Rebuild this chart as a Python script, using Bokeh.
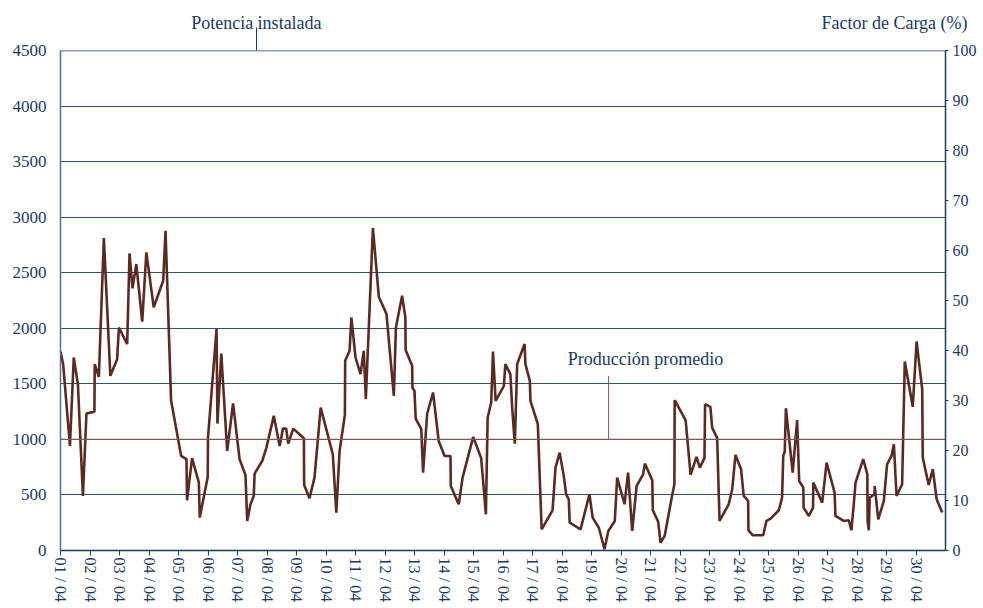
from bokeh.plotting import figure
from bokeh.models import Range1d, LinearAxis, FixedTicker, Span, Label
from bokeh.embed import file_html
from bokeh.resources import INLINE

# ---- data (time in days since 01/04 00:00, production in MW) ----
days = [
    0.00, 0.09, 0.32, 0.45, 0.59, 0.76, 0.88,
    1.15, 1.16, 1.30, 1.47, 1.69, 1.92, 1.98,
    2.26, 2.34, 2.44, 2.57, 2.77, 2.91,
    3.16, 3.48, 3.56, 3.75,
    4.09, 4.27, 4.29, 4.46, 4.69, 4.72, 4.99,
    5.00, 5.29, 5.32, 5.45, 5.65, 5.85,
    6.07, 6.27, 6.33, 6.44, 6.55, 6.58, 6.84, 6.98,
    7.23, 7.43, 7.54, 7.65, 7.72, 7.89,
    8.25, 8.26, 8.44, 8.61, 8.82,
    9.23, 9.35, 9.46, 9.64, 9.65, 9.80, 9.86,
    10.00, 10.17, 10.28, 10.35, 10.59, 10.79,
    11.05, 11.30, 11.37, 11.58, 11.69, 11.70, 11.92, 11.93,
    12.00, 12.04, 12.23, 12.29, 12.43, 12.63, 12.82,
    13.02, 13.22, 13.23, 13.50, 13.63, 13.99,
    14.26, 14.42, 14.48, 14.60, 14.66, 14.75,
    15.03, 15.08, 15.25, 15.31, 15.40, 15.48, 15.73, 15.76, 15.91, 15.93,
    16.18, 16.31, 16.68, 16.78, 16.92,
    17.06, 17.14, 17.23, 17.26, 17.63, 17.93,
    18.04, 18.25, 18.44, 18.57, 18.79, 18.87,
    19.12, 19.24, 19.38, 19.53, 19.75, 19.81,
    20.06, 20.08, 20.26, 20.34, 20.48, 20.73, 20.81, 20.82,
    21.19, 21.36, 21.56, 21.67, 21.83, 21.85,
    22.03, 22.09, 22.26, 22.34, 22.65, 22.77, 22.88,
    23.07, 23.16, 23.31, 23.32, 23.47, 23.82, 23.93,
    24.07, 24.35, 24.46, 24.50, 24.55, 24.59, 24.82, 24.97,
    25.04, 25.18, 25.19, 25.37, 25.51, 25.52, 25.82, 25.97,
    26.24, 26.27, 26.55, 26.72, 26.81, 26.89, 26.95,
    27.21, 27.35, 27.36, 27.40, 27.43, 27.59, 27.60, 27.72, 27.91,
    28.02, 28.17, 28.25, 28.34, 28.53, 28.62, 28.89,
    29.02, 29.21, 29.23, 29.43, 29.57, 29.70, 29.89,
]
production_mw = [
    1790, 1677, 941, 1737, 1497, 491, 1233,
    1250, 1677, 1563, 2813, 1572, 1722, 2007,
    1858, 2674, 2359, 2578, 2059, 2683,
    2188, 2428, 2878, 1347,
    851, 822, 452, 831, 611, 296, 662,
    1016, 1993, 1142, 1773, 896, 1323,
    822, 680, 266, 416, 491, 692, 806, 926,
    1212, 941, 1097, 1097, 962, 1097,
    1011, 590, 470, 656, 1286,
    866, 341, 896, 1221, 1707, 1797, 2097,
    1737, 1587, 1797, 1362, 2903, 2284,
    2128, 1392, 2007, 2293, 2097, 1804, 1662, 1467,
    1437, 1187, 1092, 701, 1233, 1422, 986,
    851, 851, 581, 416, 656, 1022,
    831, 326, 1197, 1332, 1791, 1347,
    1482, 1677, 1587, 1287, 962, 1677, 1858, 1677, 1527, 1347,
    1137, 191, 362, 746, 881,
    671, 506, 461, 250, 191, 506,
    296, 205, 11, 176, 266, 656,
    416, 701, 176, 581, 686, 782,
    632, 362, 259, 70, 131, 491, 596, 1353,
    1173, 680, 842, 746, 831, 1317,
    1293, 1106, 1011, 266, 416, 551, 860,
    731, 491, 446, 182, 137, 137, 266,
    287, 362, 476, 851, 890, 1281, 701, 1173,
    626, 566, 386, 311, 386, 611, 431, 791,
    521, 311, 266, 272, 182, 416, 611,
    822, 686, 266, 182, 476, 506, 581, 281, 446,
    776, 851, 956, 491, 596, 1701, 1293,
    1881, 1452, 836, 590, 731, 461, 341,
]
assert len(days) == len(production_mw)

day_ticks = list(range(30))
day_labels = ["%02d / 04" % (d + 1) for d in day_ticks]
mw_ticks = list(range(0, 4501, 500))
pct_ticks = list(range(0, 101, 10))
installed_mw = 4500
average_mw = 1000

# positions (in days) of the texts written above the frame
installed_note_x = 6.64
pct_title_x = 28.27

NAVY = "#1b3a5e"
GRID = "#2f5379"
LINE = "#5a2b23"
AVG = "#7b5750"
FONT = "Liberation Serif"

p = figure(width=979, height=604, x_range=Range1d(0, 30), y_range=Range1d(0, installed_mw),
           output_backend="svg", toolbar_location=None,
           min_border_left=60, min_border_top=50, min_border_right=30, min_border_bottom=50)
p.extra_y_ranges = {"pct": Range1d(0, 100)}
p.add_layout(LinearAxis(y_range_name="pct"), "right")

p.outline_line_color = None
p.background_fill_color = "white"
p.border_fill_color = "white"

left = p.left[0]
left.ticker = FixedTicker(ticks=mw_ticks)
left.major_tick_out = 0
left.major_tick_in = 0
left.minor_tick_out = 0
left.minor_tick_in = 0
left.axis_line_color = "#4f6f8f"
left.axis_line_width = 1.5
left.major_label_text_font = FONT
left.major_label_text_font_size = "17px"
left.major_label_text_color = NAVY
left.major_label_standoff = 14

right = p.right[0]
right.ticker = FixedTicker(ticks=pct_ticks)
right.major_tick_out = 3
right.major_tick_in = 0
right.minor_tick_out = 0
right.minor_tick_in = 0
right.major_tick_line_color = NAVY
right.axis_line_color = NAVY
right.axis_line_width = 1.5
right.major_label_text_font = FONT
right.major_label_text_font_size = "16px"
right.major_label_text_color = NAVY
right.major_label_standoff = 4

bottom = p.below[0]
bottom.ticker = FixedTicker(ticks=day_ticks)
bottom.major_label_overrides = {t: lab for t, lab in zip(day_ticks, day_labels)}
bottom.major_label_orientation = "vertical"
bottom.major_tick_out = 5
bottom.major_tick_in = 0
bottom.minor_tick_out = 0
bottom.minor_tick_in = 0
bottom.major_tick_line_color = NAVY
bottom.axis_line_color = NAVY
bottom.axis_line_width = 1.5
bottom.major_label_text_font = FONT
bottom.major_label_text_font_size = "16px"
bottom.major_label_text_color = NAVY
bottom.major_label_standoff = 2

# texts above the frame, drawn as an axis placed "above"
top = LinearAxis(ticker=FixedTicker(ticks=[installed_note_x, pct_title_x], minor_ticks=[installed_note_x]))
top.major_label_overrides = {installed_note_x: "Potencia instalada", pct_title_x: "Factor de Carga (%)"}
top.axis_line_color = None
top.major_tick_out = 0
top.major_tick_in = 0
top.minor_tick_out = 23
top.minor_tick_in = 0
top.minor_tick_line_color = NAVY
top.minor_tick_line_width = 1
top.major_label_standoff = -5
top.major_label_text_font = FONT
top.major_label_text_font_size = "18px"
top.major_label_text_color = NAVY
p.add_layout(top, "above")

p.xgrid.visible = False
p.ygrid.ticker = FixedTicker(ticks=[t for t in mw_ticks if t not in (0, average_mw, installed_mw)])
p.ygrid.grid_line_color = GRID
p.ygrid.grid_line_width = 1

p.add_layout(Span(location=installed_mw, dimension="width", line_color=NAVY, line_width=1.5))
p.add_layout(Span(location=average_mw, dimension="width", line_color=AVG, line_width=1.2))

p.line(days, production_mw, line_color=LINE, line_width=2.6)

# "Producción promedio" note
p.segment(x0=[18.58], y0=[average_mw], x1=[18.58], y1=[1570], line_color=AVG, line_width=1)
p.add_layout(Label(x=19.83, y=1725, text="Producción promedio",
                   text_align="center", text_baseline="middle", text_font=FONT,
                   text_font_size="18px", text_color=NAVY))

open("out.html", "w").write(file_html(p, INLINE))
